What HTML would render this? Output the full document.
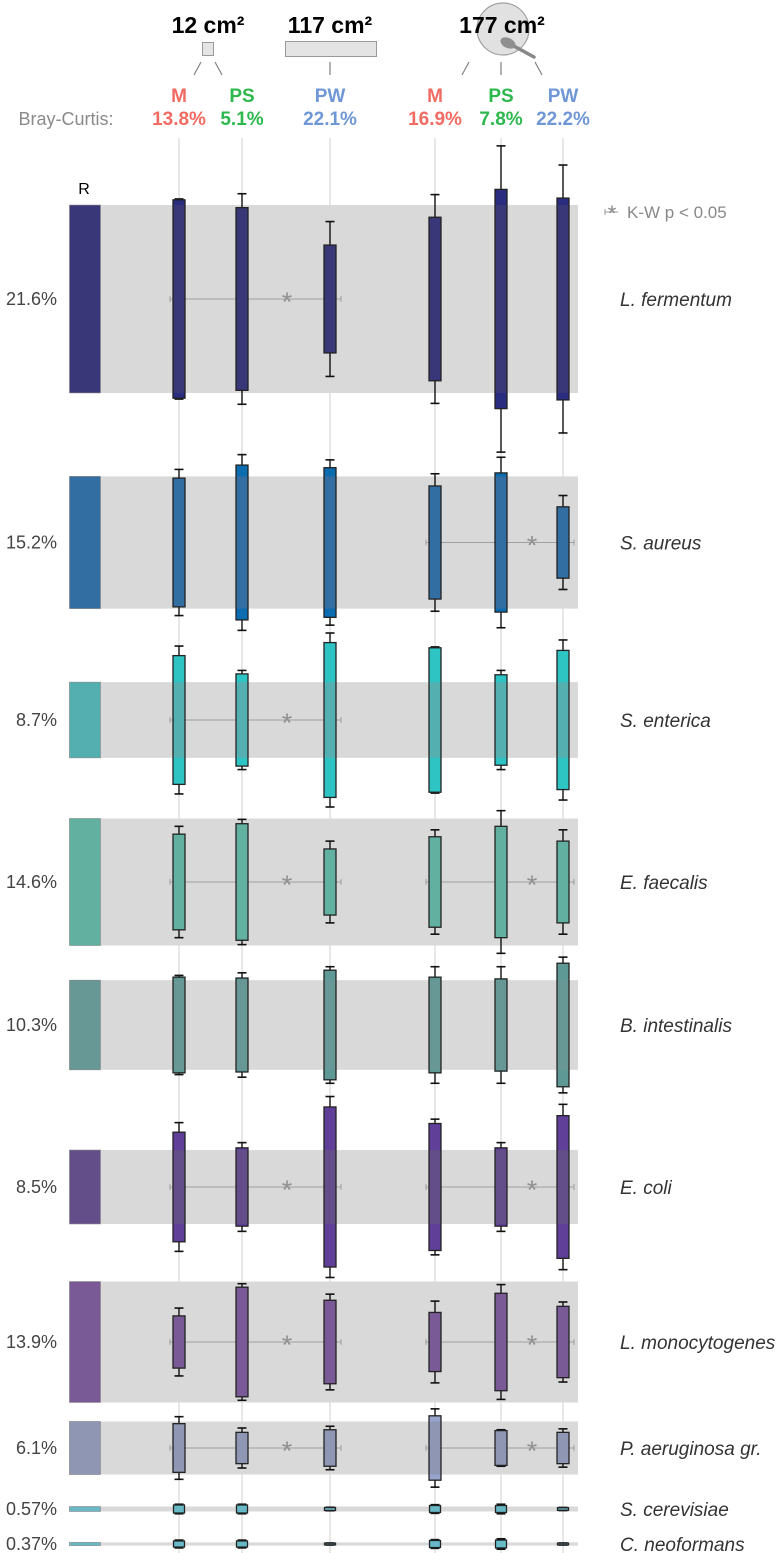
<!DOCTYPE html>
<html><head><meta charset="utf-8">
<style>
html,body{margin:0;padding:0;background:#fff;}
svg{display:block;}
text{font-family:"Liberation Sans Narrow","Liberation Sans",sans-serif;}
.it{font-family:"Liberation Sans",sans-serif;font-style:italic;}
</style></head>
<body>
<svg id="chart" width="784" height="1553" viewBox="0 0 784 1553" xmlns="http://www.w3.org/2000/svg">
  <g>
    <text x="208" y="33" font-size="23" font-weight="bold" text-anchor="middle">12 cm²</text>
    <text x="330" y="33" font-size="23" font-weight="bold" text-anchor="middle">117 cm²</text>
    <circle cx="503" cy="29" r="26" fill="#dcdcdc" fill-opacity="0.85" stroke="#a0a0a0" stroke-width="1.2"/>
    <text x="502" y="33" font-size="23" font-weight="bold" text-anchor="middle">177 cm²</text>
    <line x1="512" y1="45" x2="534" y2="57" stroke="#888" stroke-width="3.5" stroke-linecap="round"/>
    <ellipse cx="508" cy="43" rx="8" ry="5" transform="rotate(25 508 43)" fill="#8f8f8f"/>
    <rect x="202.5" y="42.5" width="11" height="13" fill="#e4e4e4" stroke="#999"/>
    <rect x="285.5" y="41.5" width="91" height="15" fill="#e4e4e4" stroke="#999"/>
    <g stroke="#888" stroke-width="1.3">
      <line x1="201" y1="62" x2="194" y2="75"/><line x1="215" y1="62" x2="222" y2="75"/>
      <line x1="330" y1="62" x2="330" y2="75"/>
      <line x1="469" y1="62" x2="462" y2="75"/><line x1="501" y1="62" x2="501" y2="75"/><line x1="535" y1="62" x2="542" y2="75"/>
    </g>
    <text x="66" y="125" font-size="18" fill="#8a8a8a" text-anchor="middle">Bray-Curtis:</text>
  </g>
  <g id="grid"></g>
  <g id="bands"></g>
  <g id="marks"></g>
  <g id="labels"></g>
  <text x="84" y="194" font-size="16" font-family="Liberation Sans" text-anchor="middle">R</text>
  <g>
    <line x1="605" y1="212" x2="618" y2="212" stroke="#999" stroke-width="1"/>
    <line x1="605" y1="209" x2="605" y2="215" stroke="#999" stroke-width="1"/>
    <text x="612" y="221" font-size="22" fill="#888" text-anchor="middle">*</text>
    <text x="627" y="218" font-size="17" fill="#888" font-family="Liberation Sans">K-W p &lt; 0.05</text>
  </g>
</svg>
<script>
// ---- data ----
const species = ["L. fermentum","S. aureus","S. enterica","E. faecalis","B. intestinalis","E. coli","L. monocytogenes","P. aeruginosa gr.","S. cerevisiae","C. neoformans"];
const refLabels = ["21.6%","15.2%","8.7%","14.6%","10.3%","8.5%","13.9%","6.1%","0.57%","0.37%"];
const refPct = [21.6,15.2,8.7,14.6,10.3,8.5,13.9,6.1,0.57,0.37];
const groups = ["M","PS","PW","M","PS","PW"];
const brayCurtis = ["13.8%","5.1%","22.1%","16.9%","7.8%","22.2%"];
// half-height of box (in % abundance units), columns: M1, PS1, PW1, M2, PS2, PW2
const boxHalf = [
  [11.4,10.5,6.2,9.4,12.6,11.6],
  [7.4,8.9,8.6,6.5,8.0,4.1],
  [7.4,5.3,8.9,8.3,5.2,8.0],
  [5.5,6.7,3.8,5.2,6.4,4.7],
  [5.5,5.4,6.3,5.5,5.3,7.1],
  [6.3,4.5,9.2,7.3,4.5,8.2],
  [3.0,6.3,4.8,3.4,5.6,4.1],
  [2.8,1.8,2.1,3.7,2.0,1.8],
  [0.46,0.46,0.17,0.40,0.40,0.15],
  [0.35,0.35,0.10,0.40,0.45,0.10]
];
const whiskerHalf = [
  [11.5,12.1,8.9,12.0,17.6,15.4],
  [8.4,10.1,9.5,7.9,9.8,5.4],
  [8.5,5.7,10.0,8.4,5.7,9.2],
  [6.4,7.2,4.7,6.0,8.2,6.0],
  [5.7,6.0,6.7,6.7,6.7,7.8],
  [7.4,5.1,10.4,7.8,5.1,9.5],
  [3.9,6.7,5.5,4.7,6.6,4.6],
  [3.6,2.3,2.5,4.5,2.1,2.2],
  [0.55,0.55,0.2,0.5,0.55,0.18],
  [0.45,0.45,0.12,0.5,0.6,0.12]
];
// Kruskal-Wallis significance per row: [group 12/117 cm2, group 177 cm2]
const kwSig = [[1,0],[0,1],[1,0],[1,1],[0,0],[1,1],[1,1],[1,1],[0,0],[0,0]];

// ---- layout / style ----
const colX = [179,242,330,435,501,563];
const rowCenter = [299,542.5,720,882,1025,1187,1342,1448,1509,1544];
const K = 8.7; // px per percent
const outerCol = ["#2a2c80","#0b6db0","#2ec4c4","#5cb8a8","#5e9995","#5f3f98","#7c5a9e","#98a4cc","#5ec0d0","#5ec0d0"];
const innerCol = ["#393777","#336ea3","#54b0b0","#62b0a0","#679896","#644e8a","#7a5a96","#8e96b3","#6ab8c6","#6ab8c6"];
const groupColor = {"M":"#f26b63","PS":"#2db84d","PW":"#6f97d6"};
const NS = "http://www.w3.org/2000/svg";
function mk(tag, attrs, parent){const e=document.createElementNS(NS,tag);for(const k in attrs)e.setAttribute(k,attrs[k]);parent.appendChild(e);return e;}
const yOff = v => v*K;

const svg = document.getElementById('chart');
const grid = document.getElementById('grid');
const bands = document.getElementById('bands');
const marks = document.getElementById('marks');
const labels = document.getElementById('labels');

groups.forEach((g,i)=>{
  const t = mk('text',{x:colX[i],y:102,'font-size':19,'font-weight':'bold','text-anchor':'middle',fill:groupColor[g]},svg);
  t.textContent = g;
  
  
  const b = mk('text',{x:colX[i],y:125,'font-size':19,'font-weight':'bold','text-anchor':'middle',fill:groupColor[g]},svg);
  b.textContent = brayCurtis[i];
  
  
});

colX.forEach(x=>{
  const l = mk('line',{x1:x,y1:138,x2:x,y2:1553,stroke:'#cfcfcf','stroke-width':1},grid);
  
  
});

species.forEach((sp,r)=>{
  const cy = rowCenter[r];
  const h = Math.max(refPct[r]*K, 3);
  const top = cy - h/2, bot = cy + h/2;
  const band = mk('rect',{x:69,y:top,width:509,height:h,fill:'#d9d9d9'},bands);
  
  
  const rb = mk('rect',{x:69.5,y:top,width:31,height:h,fill:innerCol[r],stroke:'#888','stroke-width':0.6},bands);
  
  

  [[0,2],[3,5]].forEach((pair,gi)=>{
    if(!kwSig[r][gi]) return;
    const x1 = colX[pair[0]]-9, x2 = colX[pair[1]]+11;
    const g = mk('g',{},bands);
    
    
    mk('line',{x1:x1,y1:cy,x2:x2,y2:cy,stroke:'#a0a0a0','stroke-width':1},g);
    mk('line',{x1:x1,y1:cy-3,x2:x1,y2:cy+3,stroke:'#a0a0a0','stroke-width':1},g);
    mk('line',{x1:x2,y1:cy-3,x2:x2,y2:cy+3,stroke:'#a0a0a0','stroke-width':1},g);
    const st = mk('text',{x:(gi===0?287:532),y:cy+12,'font-size':27,fill:'#909090','text-anchor':'middle','font-family':'Liberation Sans'},g);
    st.textContent='*';
  });

  colX.forEach((x,c)=>{
    const bh = yOff(boxHalf[r][c]), wh = yOff(whiskerHalf[r][c]);
    const g = mk('g',{},marks);
    
    
    const bw = r>=8 ? 11 : 12;
    mk('line',{x1:x,y1:cy-wh,x2:x,y2:cy+wh,stroke:'#111','stroke-width':1.4},g);
    mk('line',{x1:x-4.5,y1:cy-wh,x2:x+4.5,y2:cy-wh,stroke:'#111','stroke-width':1.6},g);
    mk('line',{x1:x-4.5,y1:cy+wh,x2:x+4.5,y2:cy+wh,stroke:'#111','stroke-width':1.6},g);
    const bt = cy-bh, bb = cy+bh;
    mk('rect',{x:x-bw/2,y:bt,width:bw,height:Math.max(bb-bt,1),fill:outerCol[r]},g);
    const it = Math.max(bt,top), ib = Math.min(bb,bot);
    if(ib>it) mk('rect',{x:x-bw/2,y:it,width:bw,height:ib-it,fill:innerCol[r]},g);
    mk('rect',{x:x-bw/2,y:bt,width:bw,height:Math.max(bb-bt,1),fill:'none',stroke:'#222','stroke-width':1.3},g);
  });

  const pl = mk('text',{x:57,y:cy+6,'font-size':18,fill:'#444','text-anchor':'end','font-family':'Liberation Sans'},labels);
  pl.textContent = refLabels[r];
  
  
  const sl = mk('text',{x:620,y:cy+7,'font-size':19,fill:'#333',class:'it'},labels);
  sl.textContent = sp;
  
  
});
</script>
</body></html>
